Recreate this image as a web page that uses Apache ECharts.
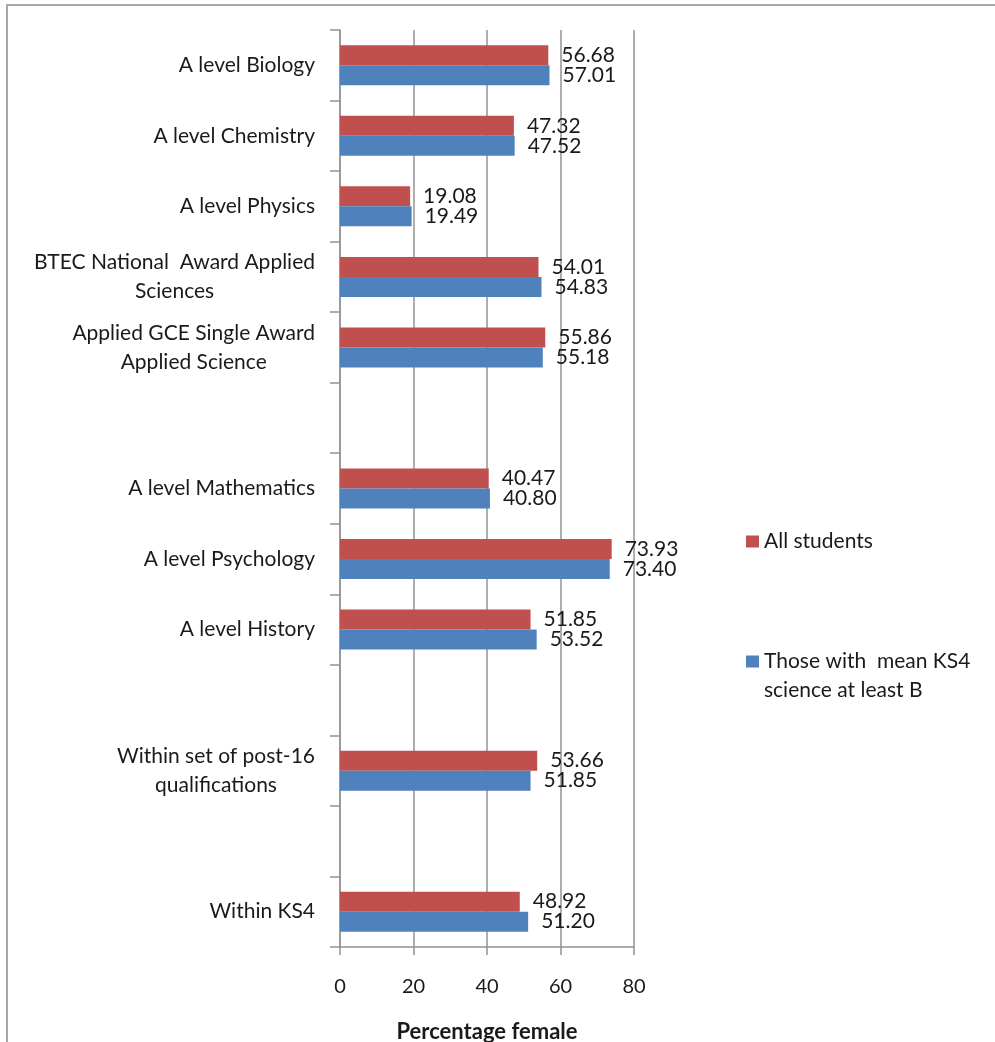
<!DOCTYPE html>
<html>
<head>
<meta charset="utf-8">
<title>Percentage female by qualification</title>
<script src="https://cdn.jsdelivr.net/npm/echarts@6/dist/echarts.min.js"></script>
<style>
  html, body { margin: 0; padding: 0; background: #ffffff; }
  #chart { width: 995px; height: 1042px; }
</style>
</head>
<body>
<div id="chart"></div>
<script>
// Qualification groups, top to bottom; whitespace-only entries are spacer rows
const categories = [
  'A level Biology',
  'A level Chemistry',
  'A level Physics',
  'BTEC National  Award Applied\nSciences',
  'Applied GCE Single Award\nApplied Science',
  ' ',
  'A level Mathematics',
  'A level Psychology',
  'A level History',
  '  ',
  'Within set of post-16\nqualifications',
  '   ',
  'Within KS4'
];

const allStudents = [56.68, 47.32, 19.08, 54.01, 55.86, null, 40.47, 73.93, 51.85, null, 53.66, null, 48.92];
const scienceAtLeastB = [57.01, 47.52, 19.49, 54.83, 55.18, null, 40.80, 73.40, 53.52, null, 51.85, null, 51.20];

const seriesNames = ['All students', 'Those with  mean KS4 science at least B'];
const xTicks = [0, 20, 40, 60, 80];

const FONT = 'Lato';
const TEXT = '#1a1a1a';
const GRIDLINE = '#939393';

const chart = echarts.init(document.getElementById('chart'), null, { renderer: 'canvas' });

function barSeries(name, values, color) {
  return {
    name: name,
    type: 'bar',
    data: values,
    barWidth: 20,
    barGap: '0%',
    itemStyle: { color: color },
    label: {
      show: true,
      position: 'right',
      distance: 13,
      color: TEXT,
      fontFamily: FONT,
      fontSize: 21,
      formatter: p => p.value == null ? '' : p.value.toFixed(2)
    }
  };
}

chart.setOption({
  animation: false,
  backgroundColor: '#ffffff',
  textStyle: { fontFamily: FONT },
  graphic: [{
    type: 'rect',
    shape: { x: 7, y: 5, width: 1100, height: 1100 },
    style: { fill: 'none', stroke: '#a8a8a8', lineWidth: 2 },
    silent: true,
    z: -10
  }],
  grid: {
    left: 340, right: 361, top: 30, bottom: 95,
    containLabel: false,
    outerBoundsMode: 'none'
  },
  legend: [{
    data: [seriesNames[0]],
    orient: 'vertical',
    left: 746,
    top: 531,
    padding: 0,
    itemWidth: 13,
    itemHeight: 12,
    icon: 'rect',
    textStyle: { color: TEXT, fontFamily: FONT, fontSize: 21 }
  }, {
    data: [seriesNames[1]],
    orient: 'vertical',
    left: 746,
    top: 618,
    padding: 0,
    itemWidth: 13,
    itemHeight: 12,
    icon: 'rect',
    // blank first line keeps the swatch level with the first line of text
    formatter: () => ' \nThose with  mean KS4\nscience at least B',
    textStyle: { color: TEXT, fontFamily: FONT, fontSize: 21, lineHeight: 29 }
  }],
  xAxis: {
    type: 'value',
    min: xTicks[0],
    max: xTicks[xTicks.length - 1],
    interval: 20,
    name: 'Percentage female',
    nameLocation: 'middle',
    nameGap: 74,
    nameTextStyle: { color: TEXT, fontFamily: FONT, fontSize: 22, fontWeight: 'bold' },
    axisLine: { show: true, lineStyle: { color: GRIDLINE, width: 1.5 } },
    axisTick: { show: true, length: 8, lineStyle: { color: GRIDLINE, width: 1.5 } },
    axisLabel: { color: TEXT, fontFamily: FONT, fontSize: 20, margin: 30 },
    splitLine: { show: true, lineStyle: { color: GRIDLINE, width: 1.5 } }
  },
  yAxis: {
    type: 'category',
    data: categories,
    inverse: true,
    axisLine: { show: true, onZero: false, lineStyle: { color: GRIDLINE, width: 1.5 } },
    axisTick: { show: true, length: 10, inside: false, lineStyle: { color: GRIDLINE, width: 1.5 } },
    axisLabel: {
      margin: 25,
      interval: 0,
      formatter: v => v.split('\n').map(s => '{c|' + s + '}').join('\n'),
      rich: {
        c: { align: 'center', color: TEXT, fontFamily: FONT, fontSize: 21, lineHeight: 29 }
      }
    },
    splitLine: { show: false }
  },
  series: [
    barSeries(seriesNames[0], allStudents, '#C0504D'),
    barSeries(seriesNames[1], scienceAtLeastB, '#4F81BD')
  ]
});
</script>
</body>
</html>
